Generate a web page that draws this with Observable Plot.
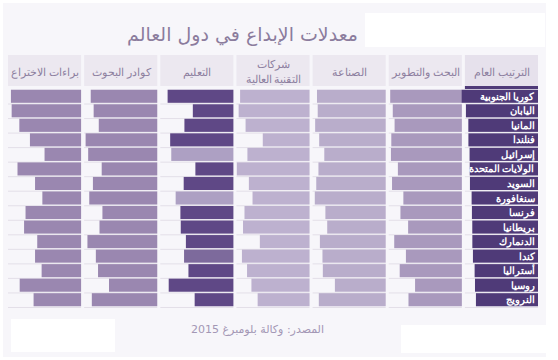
<!DOCTYPE html>
<html>
<head>
<meta charset="utf-8">
<script src="https://cdn.jsdelivr.net/npm/d3@7"></script>
<script src="https://cdn.jsdelivr.net/npm/@observablehq/plot@0.6"></script>
<style>
  body { margin: 0; background: #ffffff; font-family: "DejaVu Sans", sans-serif; }
  #root { position: relative; width: 558px; height: 360px; overflow: hidden; background: #ffffff; }
  #panel { position: absolute; left: 3px; top: 3px; width: 543px; height: 354px; background: #f7f6fa; }
  .patch { position: absolute; background: #ffffff; }
  #title { position: absolute; right: 200px; top: 23px; direction: rtl; white-space: nowrap;
           font-size: 19px; color: #8b7c9d; }
  #caption { position: absolute; right: 234px; top: 323px; direction: rtl; white-space: nowrap;
             font-size: 11px; color: #a397b5; }
  #header { position: absolute; left: 0; top: 55px; }
  #body { position: absolute; left: 0; top: 88px; }
</style>
</head>
<body>
<div id="root">
  <div id="panel"></div>
  <div class="patch" style="left:365px;top:13px;width:180px;height:34px;"></div>
  <div class="patch" style="left:11px;top:319px;width:104px;height:33px;"></div>
  <div class="patch" style="left:401px;top:325px;width:147px;height:28px;"></div>
  <div id="title">معدلات الإبداع في دول العالم</div>
  <div id="header"></div>
  <div id="body"></div>
  <div id="caption">المصدر: وكالة بلومبرغ 2015</div>
</div>
<script>
// Countries, top to bottom (overall rank order)
const countries = ["كوريا الجنوبية", "اليابان", "المانيا", "فنلندا", "إسرائيل", "الولايات المتحدة", "السويد",
  "سنغافورة", "فرنسا", "بريطانيا", "الدنمارك", "كندا", "أستراليا", "روسيا", "النرويج"];

// Metrics, right to left as in the chart
const metrics = ["الترتيب العام", "البحث والتطوير", "الصناعة", "شركات التقنية العالية", "التعليم", "كوادر البحوث", "براءات الاختراع"];
const headerLabels = ["الترتيب العام", "البحث والتطوير", "الصناعة", "شركات\nالتقنية العالية", "التعليم", "كوادر البحوث", "براءات الاختراع"];
const headerFills = ["#e6e1ec", "#ece8f0", "#ece8f0", "#ece8f0", "#ece8f0", "#ece8f0", "#ece8f0"];

// Bar lengths (share of column width, %)
const overallScore   = [104.5, 98.6, 95.3, 95.2, 93.6, 93.4, 93.1, 90.8, 90.4, 89.9, 89.8, 89.0, 86.7, 86.2, 84.9];
const researchDev    = [98, 94.5, 92, 96.5, 97, 87.5, 95.5, 80, 84, 73.5, 92.5, 76.5, 85, 64, 73];
const manufacturing  = [94, 93, 96.5, 91, 84, 92, 95, 97, 82.5, 80, 90, 86.5, 86, 69.5, 91.5];
const highTech       = [95, 97, 87.5, 64, 85, 99.5, 83, 78, 89, 91, 68, 92.5, 85.5, 79.5, 71];
const education      = [90, 55.5, 67, 86.5, 85, 52, 68, 79, 72.5, 72, 65, 67.5, 61.5, 88.5, 53];
const researchers    = [91, 87, 80, 98, 94.5, 76, 88, 93, 75, 79, 95.5, 84, 81, 66, 89.5];
const patents        = [96, 95, 84.5, 70, 50, 87, 63, 53, 76, 78, 60, 63, 54, 84, 65];

// Education column shade per country
const educationTone  = ["dark", "dark", "dark", "dark", "light", "dark", "dark", "light", "dark", "dark", "dark", "mid", "dark", "dark", "dark"];

const seriesValues = [overallScore, researchDev, manufacturing, highTech, education, researchers, patents];
const metricColors = ["#4f3a78", "#a999bd", "#b9adcb", "#bdb1cf", "#5f4886", "#9a87b0", "#9a87b0"];
const toneColors = {dark: "#5f4886", mid: "#7d6a9c", light: "#ada0c3"};

const table = [];
metrics.forEach((m, i) => {
  countries.forEach((c, j) => {
    const color = m === "التعليم" ? toneColors[educationTone[j]] : metricColors[i];
    table.push({metric: m, country: c, value: seriesValues[i][j], color});
  });
});
const rankRows = table.filter(d => d.metric === metrics[0]);

const fxOrder = metrics.slice().reverse();
const common = {
  width: 558,
  marginLeft: 8,
  marginRight: 20,
  style: "background: transparent; overflow: visible;",
  fx: {domain: fxOrder, paddingInner: 0.04, paddingOuter: 0, round: false, axis: null, label: null},
  x: {domain: [0, 100], reverse: true, axis: null},
};

const headerRows = metrics.map((m, i) => ({metric: m, label: headerLabels[i], fill: headerFills[i]}));

const header = Plot.plot({
  ...common,
  height: 34,
  marginTop: 0,
  marginBottom: 0,
  y: {domain: ["h"], axis: null, padding: 0, round: false},
  color: {type: "identity"},
  marks: [
    Plot.barX(headerRows, {fx: "metric", y: () => "h", x1: 0, x2: 100, fill: "fill", insetBottom: 3}),
    Plot.barX(headerRows.slice(0, 1), {fx: "metric", y: () => "h", x1: 0, x2: 100, fill: "#4f3a78", insetTop: 31}),
    Plot.text(headerRows, {fx: "metric", y: () => "h", x: 50, text: "label", fill: "#8d7f9f",
      fontSize: 11, dy: -1.5, lineHeight: 1.3})
  ]
});
document.getElementById("header").append(header);

const body = Plot.plot({
  ...common,
  height: 222,
  marginTop: 1,
  marginBottom: 3,
  y: {domain: countries, axis: null, paddingInner: 0.1, paddingOuter: 0.05, round: false},
  color: {type: "identity"},
  marks: [
    Plot.ruleY(table, {fx: "metric", y: "country", dy: 7.25, stroke: "#e3dfe8", strokeWidth: 1}),
    Plot.barX(table, {fx: "metric", y: "country", x1: 0, x2: "value", fill: "color"}),
    Plot.text(rankRows, {fx: "metric", y: "country", x: 0, text: "country", textAnchor: "end", dx: -4,
      fill: "#ffffff", fontSize: 9.5, fontWeight: "bold"})
  ]
});
document.getElementById("body").append(body);
</script>
</body>
</html>
